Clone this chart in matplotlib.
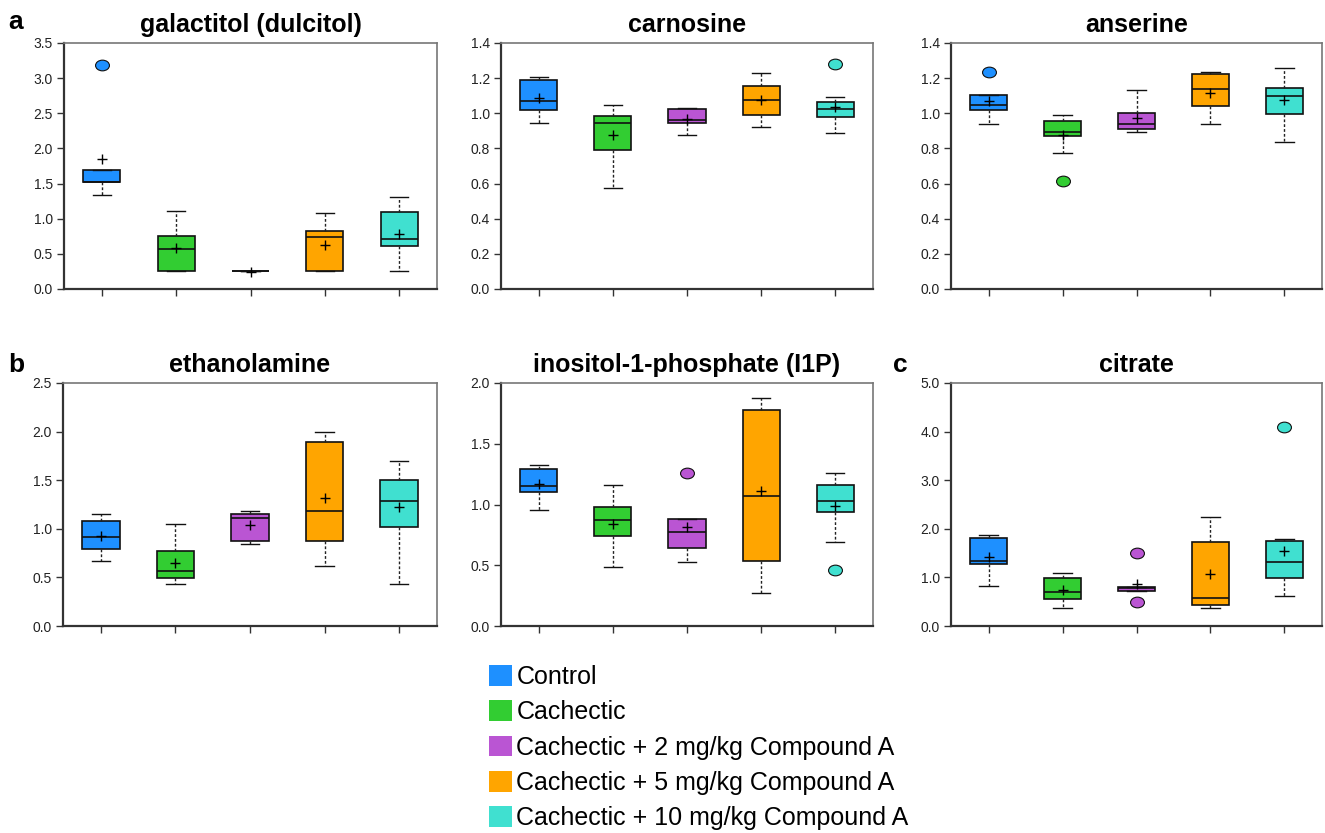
import numpy as np
import matplotlib
matplotlib.use('Agg')
import matplotlib.pyplot as plt
from matplotlib.patches import Patch
from matplotlib.path import Path
from matplotlib.markers import MarkerStyle
from matplotlib.transforms import Affine2D
from matplotlib.ticker import FormatStrFormatter

plt.rcParams['font.family'] = ['Liberation Sans', 'DejaVu Sans']

groups = ['Control', 'Cachectic', 'Cachectic + 2 mg/kg Compound A',
          'Cachectic + 5 mg/kg Compound A', 'Cachectic + 10 mg/kg Compound A']
colors = ['#1E90FF', '#32CD32', '#BA55D3', '#FFA500', '#40E0D0']

# per group: (whislo, q1, median, q3, whishi, mean)
galactitol_stats = [(1.34, 1.52, 1.52, 1.69, 1.69, 1.85),
                    (0.25, 0.25, 0.57, 0.76, 1.11, 0.59),
                    (0.25, 0.25, 0.25, 0.25, 0.25, 0.24),
                    (0.25, 0.25, 0.74, 0.83, 1.08, 0.62),
                    (0.25, 0.61, 0.71, 1.10, 1.31, 0.78)]
galactitol_fliers = [[3.19], [], [], [], []]

carnosine_stats = [(0.943, 1.02, 1.07, 1.19, 1.205, 1.085),
                   (0.575, 0.791, 0.947, 0.985, 1.045, 0.877),
                   (0.875, 0.945, 0.96, 1.023, 1.03, 0.969),
                   (0.922, 0.99, 1.074, 1.155, 1.231, 1.074),
                   (0.886, 0.981, 1.026, 1.066, 1.093, 1.036)]
carnosine_fliers = [[], [], [], [], [1.283]]

anserine_stats = [(0.941, 1.017, 1.047, 1.102, 1.102, 1.07),
                  (0.774, 0.871, 0.894, 0.958, 0.988, 0.876),
                  (0.895, 0.911, 0.941, 1.002, 1.133, 0.975),
                  (0.937, 1.043, 1.138, 1.222, 1.237, 1.116),
                  (0.839, 0.996, 1.098, 1.146, 1.256, 1.078)]
anserine_fliers = [[1.237], [0.613], [], [], []]

ethanolamine_stats = [(0.669, 0.792, 0.916, 1.08, 1.152, 0.922),
                      (0.432, 0.49, 0.562, 0.772, 1.049, 0.645),
                      (0.844, 0.878, 1.115, 1.152, 1.183, 1.036),
                      (0.614, 0.878, 1.187, 1.896, 1.996, 1.313),
                      (0.436, 1.019, 1.283, 1.505, 1.698, 1.221)]
ethanolamine_fliers = [[], [], [], [], []]

i1p_stats = [(0.957, 1.103, 1.155, 1.295, 1.328, 1.169),
             (0.488, 0.743, 0.875, 0.977, 1.158, 0.84),
             (0.524, 0.642, 0.774, 0.883, 0.883, 0.818),
             (0.274, 0.538, 1.073, 1.775, 1.877, 1.108),
             (0.689, 0.938, 1.032, 1.16, 1.259, 0.985)]
i1p_fliers = [[], [], [1.257], [], [0.458]]

citrate_stats = [(0.823, 1.279, 1.335, 1.805, 1.874, 1.425),
                 (0.373, 0.56, 0.692, 0.996, 1.10, 0.747),
                 (0.714, 0.714, 0.79, 0.797, 0.797, 0.859),
                 (0.367, 0.422, 0.567, 1.736, 2.234, 1.065),
                 (0.622, 0.989, 1.321, 1.743, 1.784, 1.542)]
citrate_fliers = [[], [], [1.508, 0.49], [], [4.094]]

titles = ['galactitol (dulcitol)', 'carnosine', 'anserine',
          'ethanolamine', 'inositol-1-phosphate (I1P)', 'citrate']
panel_stats = [galactitol_stats, carnosine_stats, anserine_stats,
               ethanolamine_stats, i1p_stats, citrate_stats]
panel_fliers = [galactitol_fliers, carnosine_fliers, anserine_fliers,
                ethanolamine_fliers, i1p_fliers, citrate_fliers]
y_max = [3.5, 1.4, 1.4, 2.5, 2.0, 5.0]
y_step = [0.5, 0.2, 0.2, 0.5, 0.5, 1.0]

W, H = 1325, 833
fig = plt.figure(figsize=(W / 100, H / 100), dpi=100)

# axes rectangles in pixels: left, top, right, bottom
rects = [(64, 43, 437, 289), (501, 43, 873, 289), (951, 43, 1322, 289),
         (63, 383, 437, 626), (501, 383, 873, 626), (951, 383, 1322, 626)]

ellipse = MarkerStyle(Path.unit_circle().transformed(Affine2D().scale(1.3, 1.0)))

for i, (l, t, r, b) in enumerate(rects):
    ax = fig.add_axes([l / W, 1 - b / H, (r - l) / W, (b - t) / H])
    stats = []
    for (lo, q1, med, q3, hi, mean), fl in zip(panel_stats[i], panel_fliers[i]):
        stats.append(dict(whislo=lo, q1=q1, med=med, q3=q3, whishi=hi,
                          mean=mean, fliers=fl))
    res = ax.bxp(stats, positions=range(1, 6), widths=0.5, capwidths=0.25,
                 patch_artist=True, showmeans=True, meanline=False,
                 boxprops=dict(edgecolor='#111111', linewidth=1.2),
                 medianprops=dict(color='#111111', linewidth=1.2),
                 whiskerprops=dict(color='#222222', linestyle=(0, (2, 1.5)), linewidth=1.0),
                 capprops=dict(color='#111111', linewidth=1.0),
                 meanprops=dict(marker='+', markeredgecolor='black', markersize=7,
                                markeredgewidth=1.0, linestyle='none'),
                 flierprops=dict(marker=ellipse, markeredgecolor='#111111',
                                 markersize=10, markeredgewidth=0.8, linestyle='none'))
    for box, fl, c in zip(res['boxes'], res['fliers'], colors):
        box.set_facecolor(c)
        fl.set_markerfacecolor(c)
    ax.set_xlim(0.49, 5.51)
    ax.set_ylim(0, y_max[i])
    ax.set_yticks(np.round(np.arange(0, y_max[i] + 1e-9, y_step[i]), 2))
    ax.yaxis.set_major_formatter(FormatStrFormatter('%.1f'))
    ax.set_xticks(range(1, 6))
    ax.set_xticklabels([])
    ax.tick_params(axis='both', direction='out', length=5, width=1.0,
                   color='#333333', labelsize=10, labelcolor='#222222', pad=3)
    for s in ['left', 'bottom']:
        ax.spines[s].set_color('#333333')
        ax.spines[s].set_linewidth(1.6)
    for s in ['top', 'right']:
        ax.spines[s].set_color('#777777')
        ax.spines[s].set_linewidth(1.2)
    ax.set_title(titles[i], fontsize=18, fontweight='bold', pad=8)

fig.text(8 / W, 1 - 29 / H, 'a', fontsize=19, fontweight='bold', va='baseline')
fig.text(8 / W, 1 - 372 / H, 'b', fontsize=19, fontweight='bold', va='baseline')
fig.text(893 / W, 1 - 372 / H, 'c', fontsize=19, fontweight='bold', va='baseline')

handles = [Patch(facecolor=c, edgecolor='none') for c in colors]
fig.legend(handles, groups, loc='upper left', bbox_to_anchor=(489 / W, 1 - 665 / H),
           frameon=False, fontsize=18, handlelength=0.9, handleheight=0.9,
           handletextpad=0.2, labelspacing=0.45, borderpad=0, borderaxespad=0)

fig.savefig('out.png', dpi=100)
